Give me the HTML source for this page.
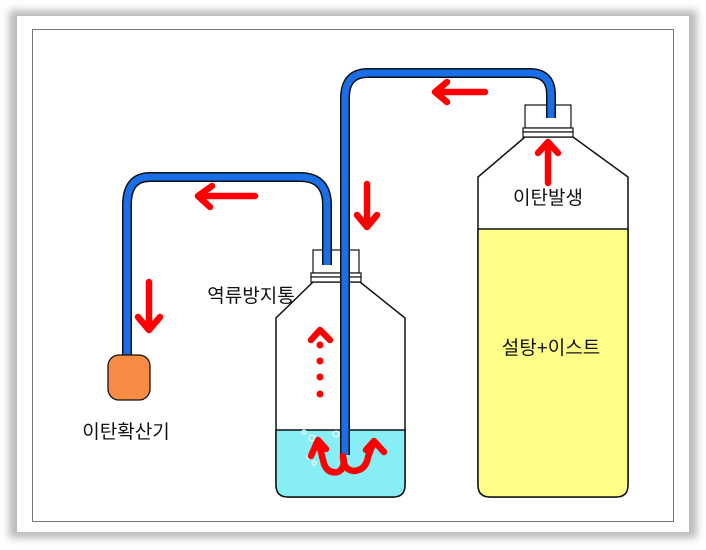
<!DOCTYPE html>
<html><head><meta charset="utf-8"><style>
body{margin:0;background:#fff;}
svg{display:block}
text{font-family:"Liberation Sans","Noto Sans CJK KR","NanumGothic",sans-serif;font-size:19px;fill:#111}
</style></head><body>
<svg width="706" height="550" viewBox="0 0 706 550" xmlns="http://www.w3.org/2000/svg">
<defs>
<filter id="sh" x="-5%" y="-5%" width="110%" height="110%"><feGaussianBlur stdDeviation="4"/></filter>
</defs>
<rect x="9" y="10" width="688" height="528" fill="#bbb" filter="url(#sh)"/>
<rect x="17" y="16" width="672" height="516" fill="#fff"/>
<rect x="32.5" y="29.5" width="641" height="492" fill="#fff" stroke="#777" stroke-width="1"/>

<!-- big bottle -->
<path d="M525,137 L478,177 L478,485 Q478,497 490,497 L616,497 Q628,497 628,485 L628,177 L573,137 Z" fill="#fff" stroke="#111" stroke-width="1.5"/>
<path d="M478,229 L628,229 L628,485 Q628,497 616,497 L490,497 Q478,497 478,485 Z" fill="#ffff88" stroke="#111" stroke-width="1.5"/>
<rect x="525" y="105" width="46" height="23" fill="#fff" stroke="#111" stroke-width="1.2"/>
<rect x="523" y="128" width="50" height="4" fill="#fff" stroke="#111" stroke-width="1.2"/>
<rect x="523" y="132" width="50" height="5" fill="#fff" stroke="#111" stroke-width="1.2"/>

<!-- small bottle -->
<path d="M313,282 L276,318 L276,485 Q276,497 288,497 L393,497 Q405,497 405,485 L405,318 L360,282 Z" fill="#fff" stroke="#111" stroke-width="1.5"/>
<path d="M276,430 L405,430 L405,485 Q405,497 393,497 L288,497 Q276,497 276,485 Z" fill="#88eef5" stroke="#111" stroke-width="1.5"/>
<rect x="313" y="250" width="46" height="23" fill="#fff" stroke="#111" stroke-width="1.2"/>
<rect x="311" y="273" width="50" height="4" fill="#fff" stroke="#111" stroke-width="1.2"/>
<rect x="311" y="277" width="50" height="5" fill="#fff" stroke="#111" stroke-width="1.2"/>
<g fill="none" stroke="#fff" stroke-width="1.2" opacity="0.9">
<circle cx="304" cy="432" r="2"/><circle cx="312" cy="438" r="3"/><circle cx="336" cy="434" r="3"/><circle cx="309" cy="457" r="2"/><circle cx="314" cy="463" r="2"/>
</g>

<!-- tubes -->
<g fill="none" stroke-linecap="butt">
<path d="M551,118 L551,95 Q551,73 530,73 L368,73 Q345,73 345,98 L345,455" stroke="#111" stroke-width="10"/>
<path d="M551,118 L551,95 Q551,73 530,73 L368,73 Q345,73 345,98 L345,455" stroke="#1a6fe8" stroke-width="7"/>
<path d="M327,265 L327,205 Q327,177 300,177 L150,177 Q127,177 127,205 L127,360" stroke="#111" stroke-width="10"/>
<path d="M327,265 L327,205 Q327,177 300,177 L150,177 Q127,177 127,205 L127,360" stroke="#1a6fe8" stroke-width="7"/>
</g>
<rect x="108" y="355" width="42" height="45" rx="11" fill="#f98c44" stroke="#111" stroke-width="1.3"/>

<!-- red arrows -->
<g stroke="#f00" stroke-width="6.5" fill="none" stroke-linecap="round" stroke-linejoin="round">
<path d="M255,196 L198,196 M212,186 L198,196 L210,207"/>
<path d="M149,282 L149,330 M138,317 L149,330 L160,317"/>
<path d="M485,92 L435,92 M447,82 L435,92 L447,102"/>
<path d="M367,184 L367,227 M357,215 L367,227 L377,215"/>
<path d="M548,183 L548,142 M538,153 L548,142 L558,153"/>
<path d="M311,340 L320,330 L330,340"/>
<path d="M311,456 L318,440 L326,449 M318,440 L324,464 Q328,474 338,472 Q346,468 343,456 M368,457 Q366,470 354,471 Q343,470 343,456 M368,457 L374,441 L384,452 M374,441 L366,450"/>
</g>
<g fill="#f00">
<circle cx="320" cy="345" r="3.5"/><circle cx="320" cy="361" r="3.5"/><circle cx="320" cy="377" r="3.5"/><circle cx="320" cy="394" r="3.5"/>
</g>

<text x="548" y="204" text-anchor="middle">이탄발생</text>
<text x="551" y="354" text-anchor="middle">설탕+이스트</text>
<text x="251" y="302" text-anchor="middle">역류방지통</text>
<text x="126" y="438" text-anchor="middle">이탄확산기</text>
</svg>
</body></html>
